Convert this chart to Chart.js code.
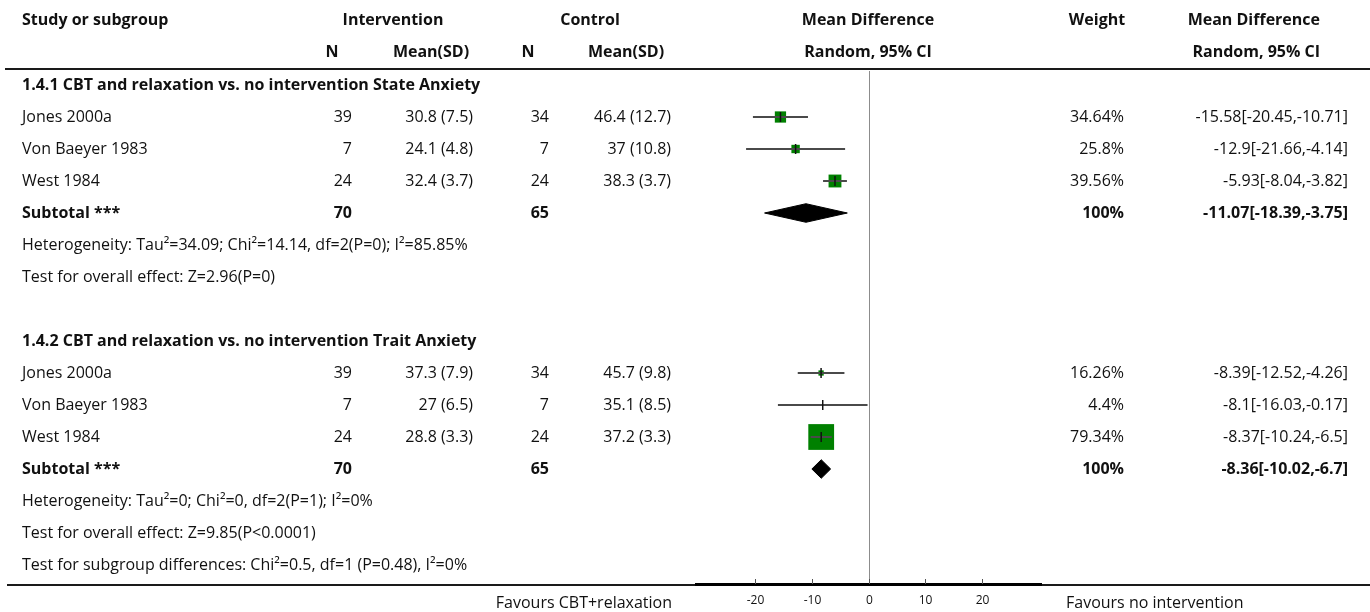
<!DOCTYPE html>
<html>
<head>
<meta charset="utf-8">
<script src="https://cdn.jsdelivr.net/npm/chart.js@4/dist/chart.umd.min.js"></script>
<style>
  html, body { margin: 0; padding: 0; background: #fff; }
  #wrap { width: 1370px; height: 612px; }
</style>
</head>
<body>
<div id="wrap"><canvas id="forest" width="1370" height="612"></canvas></div>
<script>
// rows of the table, top to bottom
const rowLabels = [
    '1.4.1 CBT and relaxation vs. no intervention State Anxiety',
    'Jones 2000a',
    'Von Baeyer 1983',
    'West 1984',
    'Subtotal ***',
    'Heterogeneity: Tau\u00b2=34.09; Chi\u00b2=14.14, df=2(P=0); I\u00b2=85.85%',
    'Test for overall effect: Z=2.96(P=0)',
    '',
    '1.4.2 CBT and relaxation vs. no intervention Trait Anxiety',
    'Jones 2000a',
    'Von Baeyer 1983',
    'West 1984',
    'Subtotal ***',
    'Heterogeneity: Tau\u00b2=0; Chi\u00b2=0, df=2(P=1); I\u00b2=0%',
    'Test for overall effect: Z=9.85(P<0.0001)',
    'Test for subgroup differences: Chi\u00b2=0.5, df=1 (P=0.48), I\u00b2=0%'
]
const boldRows = [0, 4, 8, 12]

// studies
const studyRows = [1, 2, 3, 9, 10, 11]
const intN = [39, 7, 24, 39, 7, 24]
const intMeanSD = ['30.8 (7.5)', '24.1 (4.8)', '32.4 (3.7)', '37.3 (7.9)', '27 (6.5)', '28.8 (3.3)']
const ctrlN = [34, 7, 24, 34, 7, 24]
const ctrlMeanSD = ['46.4 (12.7)', '37 (10.8)', '38.3 (3.7)', '45.7 (9.8)', '35.1 (8.5)', '37.2 (3.3)']
const meanDiff = [-15.58, -12.9, -5.93, -8.39, -8.1, -8.37]
const ciLow = [-20.45, -21.66, -8.04, -12.52, -16.03, -10.24]
const ciHigh = [-10.71, -4.14, -3.82, -4.26, -0.17, -6.5]
const weights = [34.64, 25.8, 39.56, 16.26, 4.4, 79.34]

// subtotals
const subRows = [4, 12]
const subIntN = [70, 70]
const subCtrlN = [65, 65]
const subMeanDiff = [-11.07, -8.36]
const subLow = [-18.39, -10.02]
const subHigh = [-3.75, -6.7]
const subWeight = [100, 100]

// axis
const axisTicks = [-20, -10, 0, 10, 20]
const favoursLeft = 'Favours CBT+relaxation'
const favoursRight = 'Favours no intervention'

const FONT = '"Open Sans", "Noto Sans", sans-serif'

const ciData = []
studyRows.forEach((r, i) => {
    ciData.push({ x: ciLow[i], y: r }, { x: ciHigh[i], y: r }, { x: null, y: null })
})

const diamondSets = subRows.map((r, i) => ({
    data: [
        { x: subLow[i], y: r },
        { x: subMeanDiff[i], y: r - 0.29 },
        { x: subHigh[i], y: r },
        { x: subMeanDiff[i], y: r + 0.29 },
        { x: subLow[i], y: r }
    ],
    showLine: true,
    fill: 'shape',
    backgroundColor: '#000',
    borderColor: '#000',
    borderWidth: 1,
    pointRadius: 0,
    tension: 0,
    order: 3
}))

const tablePlugin = {
    id: 'tablePlugin',
    beforeDatasetsDraw(chart) {
        const { ctx, scales: { x }, chartArea } = chart
        ctx.save()
        // line of no effect
        ctx.strokeStyle = '#8c8c8c'
        ctx.lineWidth = 1
        const x0 = Math.round(x.getPixelForValue(0)) + 0.5
        ctx.beginPath()
        ctx.moveTo(x0, chartArea.top + 2)
        ctx.lineTo(x0, chartArea.bottom)
        ctx.stroke()
        ctx.restore()
    },
    afterDatasetsDraw(chart) {
        const { ctx, scales: { x, y }, chartArea } = chart
        ctx.save()
        ctx.fillStyle = '#111'
        ctx.textBaseline = 'middle'

        const text = (s, px, py, align, bold, size) => {
            ctx.font = (bold ? 'bold ' : '') + (size || 16) + 'px ' + FONT
            ctx.textAlign = align
            ctx.fillText(String(s), px, py)
        }

        // header
        text('Study or subgroup', 22, 20, 'left', true)
        text('Intervention', 393, 20, 'center', true)
        text('Control', 590, 20, 'center', true)
        text('Mean Difference', 868, 20, 'center', true)
        text('Weight', 1097, 20, 'center', true)
        text('Mean Difference', 1320, 20, 'right', true)
        text('N', 332, 52, 'center', true)
        text('Mean(SD)', 431, 52, 'center', true)
        text('N', 528, 52, 'center', true)
        text('Mean(SD)', 626, 52, 'center', true)
        text('Random, 95% CI', 868, 52, 'center', true)
        text('Random, 95% CI', 1320, 52, 'right', true)

        // row labels
        rowLabels.forEach((s, r) => {
            if (s) text(s, 22, y.getPixelForValue(r), 'left', boldRows.includes(r))
        })

        // study columns
        studyRows.forEach((r, i) => {
            const py = y.getPixelForValue(r)
            text(intN[i], 352, py, 'right')
            text(intMeanSD[i], 473, py, 'right')
            text(ctrlN[i], 549, py, 'right')
            text(ctrlMeanSD[i], 671, py, 'right')
            text(weights[i] + '%', 1124, py, 'right')
            text(meanDiff[i] + '[' + ciLow[i] + ',' + ciHigh[i] + ']', 1348, py, 'right')
        })

        subRows.forEach((r, i) => {
            const py = y.getPixelForValue(r)
            text(subIntN[i], 352, py, 'right', true)
            text(subCtrlN[i], 549, py, 'right', true)
            text(subWeight[i] + '%', 1124, py, 'right', true)
            text(subMeanDiff[i] + '[' + subLow[i] + ',' + subHigh[i] + ']', 1348, py, 'right', true)
        })

        // rules
        ctx.strokeStyle = '#1a1a1a'
        ctx.lineWidth = 2
        ctx.beginPath()
        ctx.moveTo(5, chartArea.top)
        ctx.lineTo(1370, chartArea.top)
        ctx.moveTo(7, chartArea.bottom)
        ctx.lineTo(1370, chartArea.bottom)
        ctx.stroke()

        // axis
        ctx.strokeStyle = '#000'
        ctx.lineWidth = 3
        ctx.beginPath()
        ctx.moveTo(chartArea.left, chartArea.bottom - 0.5)
        ctx.lineTo(chartArea.right, chartArea.bottom - 0.5)
        ctx.stroke()
        ctx.lineWidth = 1
        ctx.strokeStyle = '#555'
        axisTicks.forEach(v => {
            const px = Math.round(x.getPixelForValue(v)) + 0.5
            ctx.beginPath()
            ctx.moveTo(px, chartArea.bottom - 6)
            ctx.lineTo(px, chartArea.bottom - 1)
            ctx.stroke()
            text(v, px, chartArea.bottom + 16, 'center', false, 12)
        })
        text(favoursLeft, 672, chartArea.bottom + 18, 'right')
        text(favoursRight, 1066, chartArea.bottom + 18, 'left')
        ctx.restore()
    }
}

new Chart(
    document.getElementById('forest'),
    {
        type: 'scatter',
        data: {
            datasets: [
                {
                    // point estimate tick
                    data: studyRows.map((r, i) => ({ x: meanDiff[i], y: r })),
                    pointStyle: 'line',
                    rotation: 90,
                    pointRadius: 5,
                    borderColor: '#111',
                    pointBorderWidth: 1.5,
                    order: 0
                },
                {
                    // confidence intervals
                    data: ciData,
                    showLine: true,
                    spanGaps: false,
                    borderColor: '#4a4a4a',
                    borderWidth: 2,
                    pointRadius: 0,
                    order: 1
                },
                {
                    // weight squares
                    data: studyRows.map((r, i) => ({ x: meanDiff[i], y: r })),
                    pointStyle: 'rect',
                    pointRadius: weights.map(w => w * 0.325 / Math.SQRT2),
                    backgroundColor: '#008000',
                    borderWidth: 0,
                    order: 2
                },
                ...diamondSets
            ]
        },
        options: {
            responsive: false,
            animation: false,
            devicePixelRatio: 1,
            events: [],
            layout: {
                padding: { left: 695, right: 328, top: 69, bottom: 27 }
            },
            plugins: {
                legend: { display: false },
                tooltip: { enabled: false }
            },
            scales: {
                x: { type: 'linear', min: -30.7, max: 30.7, display: false },
                y: { type: 'linear', min: -0.5, max: 15.625, reverse: true, display: false }
            }
        },
        plugins: [tablePlugin]
    }
)
</script>
</body>
</html>
